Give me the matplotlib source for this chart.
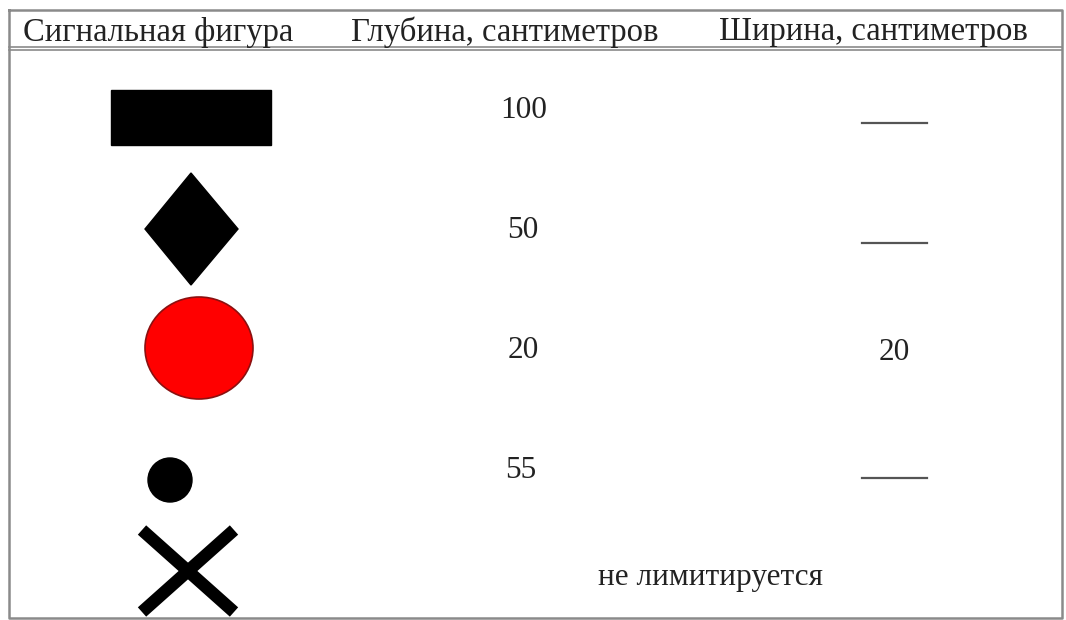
import matplotlib.pyplot as plt
from matplotlib.patches import Rectangle, Polygon, Ellipse, Circle
from matplotlib.lines import Line2D

plt.rcParams['font.family'] = ['Liberation Serif', 'DejaVu Serif']

# --- Table content ---
headers = ['Сигнальная фигура', 'Глубина, сантиметров', 'Ширина, сантиметров']
shapes = ['rect', 'diamond', 'red_circle', 'dot', 'cross']
depth = ['100', '50', '20', '55', 'не лимитируется']
width = ['—', '—', '20', '—', '']

# --- Layout (pixel coords) ---
W, H = 1066, 620
header_x = [158, 505, 873]
shape_y = [117, 229, 348, 480, 571]
depth_y = [111, 231, 351, 471, 578]
width_y = [123, 243, 353, 478, 578]
depth_x = [524, 523, 523, 521, 710]
width_x = 894

fig = plt.figure(figsize=(W / 100, H / 100), dpi=100)
ax = fig.add_axes([0, 0, 1, 1])
ax.set_xlim(0, W)
ax.set_ylim(H, 0)
ax.axis('off')

# borders
border = '#8a8a8a'
ax.plot([9, 1062, 1062, 9, 9], [10, 10, 618, 618, 10], color=border, lw=1.8)
ax.plot([9, 1062], [47, 47], color=border, lw=1.2)
ax.plot([9, 1062], [50, 50], color=border, lw=1.2)

txt = '#222222'
for x, h in zip(header_x, headers):
    ax.text(x, 32, h, ha='center', va='center', fontsize=23.5, color=txt)

# signal shapes
for kind, y in zip(shapes, shape_y):
    if kind == 'rect':
        ax.add_patch(Rectangle((111, y - 27), 160, 55, color='black'))
    elif kind == 'diamond':
        ax.add_patch(Polygon([[191, y - 56], [238, y], [191, y + 56], [145, y]],
                             closed=True, color='black'))
    elif kind == 'red_circle':
        ax.add_patch(Ellipse((199, y), 108, 102, facecolor='#ff0000',
                             edgecolor='#8b1010', lw=1.2))
    elif kind == 'dot':
        ax.add_patch(Circle((170, y), 22, color='black'))
    elif kind == 'cross':
        ax.add_line(Line2D([142, 234], [y - 41, y + 41], color='black', lw=9,
                           solid_capstyle='butt'))
        ax.add_line(Line2D([142, 234], [y + 41, y - 41], color='black', lw=9,
                           solid_capstyle='butt'))

for x, y, d in zip(depth_x, depth_y, depth):
    ax.text(x, y, d, ha='center', va='center', fontsize=22.5, color=txt)

for y, w in zip(width_y, width):
    if w == '—':
        ax.plot([862, 927], [y, y], color='#555555', lw=1.6)
    elif w:
        ax.text(width_x, y, w, ha='center', va='center', fontsize=22.5, color=txt)

fig.savefig('out.png', dpi=100)
